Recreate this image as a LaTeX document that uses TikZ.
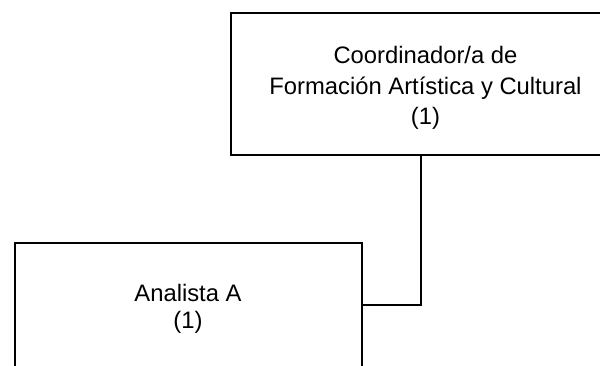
\documentclass[tikz,border=0pt]{standalone}
\usepackage{fontspec}
\setmainfont{Liberation Sans}
\begin{document}
\begin{tikzpicture}[x=1pt,y=-1pt,
  boxst/.style={draw=black, line width=2pt, rectangle, inner sep=0pt, anchor=north west},
  lbl/.style={align=center, inner sep=0pt, text=black},
  conn/.style={draw=black, line width=1.3pt}]
\useasboundingbox (0,0) rectangle (600,365);
\clip (0,0) rectangle (600,365);
\fill[white] (0,0) rectangle (600,365);
\node[boxst, minimum width=382pt, minimum height=142pt] (top) at (230,12) {};
\node[lbl, font=\fontsize{23.8}{30.5}\selectfont] (toptext) at (425.5,88) {Coordinador/a de\\Formación Artística y Cultural\\(1)};
\node[boxst, minimum width=347pt, minimum height=170pt] (bot) at (14,242) {};
\node[lbl, font=\fontsize{23.8}{27}\selectfont] (bottext) at (188,308.5) {Analista A\\(1)};
\coordinate (elbow) at (421,305);
\draw[conn] (top.south -| elbow) -- (elbow) -- (elbow -| bot.east);
\end{tikzpicture}
\end{document}
